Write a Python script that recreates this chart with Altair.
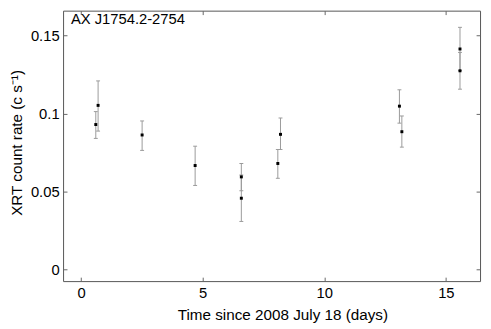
import altair as alt
import pandas as pd

# Observation time (days since 2008 July 18) and XRT count rates
t_days = [0.605, 0.70, 2.51, 4.69, 6.59, 6.59, 8.09, 8.20, 13.09, 13.19, 15.58, 15.58]
rate = [0.0929, 0.1052, 0.0862, 0.0666, 0.0593, 0.0456, 0.0679, 0.0866, 0.1047, 0.0883, 0.1414, 0.1274]
rate_lo = [0.0840, 0.0887, 0.0763, 0.0538, 0.0504, 0.0307, 0.0584, 0.0769, 0.0938, 0.0784, 0.1275, 0.1156]
rate_hi = [0.1012, 0.1209, 0.0952, 0.0790, 0.0679, 0.0605, 0.0769, 0.0971, 0.1152, 0.0984, 0.1553, 0.1392]

x_ticks = [0, 5, 10, 15]
y_ticks = [0, 0.05, 0.1, 0.15]
source_name = "AX J1754.2-2754"

df = pd.DataFrame({"t": t_days, "rate": rate, "lo": rate_lo, "hi": rate_hi})

W, H = 424, 275
FONT = "Liberation Sans"
xs = alt.Scale(domain=[-0.74, 16.405], nice=False, zero=False)
ys = alt.Scale(domain=[-0.0076, 0.166], nice=False, zero=False)

tick_axis = dict(labels=False, domain=False, grid=False, ticks=True, tickSize=4,
                 tickColor="#666666", tickWidth=1, title="")

base = alt.Chart(df)

bars = base.mark_rule(color="#9a9a9a", strokeWidth=1).encode(
    x=alt.X("t:Q", scale=xs, axis=alt.Axis(
        orient="bottom", values=x_ticks, ticks=False, domain=False, grid=False,
        labelPadding=5, labelFontSize=15, labelFont=FONT, labelColor="black",
        title="Time since 2008 July 18 (days)", titleFont=FONT, titleFontSize=15.5,
        titleFontWeight="normal", titleColor="black", titleX=223, titleY=39,
        titleBaseline="alphabetic")),
    y=alt.Y("lo:Q", scale=ys, axis=alt.Axis(
        orient="left", values=y_ticks, format="~g", ticks=False, domain=False, grid=False,
        labelPadding=4, labelFontSize=15, labelFont=FONT, labelColor="black",
        title="XRT count rate (c s\u207b\u00b9)", titleFont=FONT, titleFontSize=15.5,
        titleFontWeight="normal", titleColor="black", titleX=-39, titleY=134)),
    y2="hi:Q",
)

caps_lo = base.mark_tick(orient="horizontal", size=4, thickness=1, color="#9a9a9a", opacity=1).encode(
    x=alt.X("t:Q", scale=xs, axis=alt.Axis(orient="top", offset=-H, values=x_ticks, **tick_axis)),
    y=alt.Y("lo:Q", scale=ys, axis=alt.Axis(orient="right", offset=-W, values=y_ticks, **tick_axis)),
)

caps_hi = base.mark_tick(orient="horizontal", size=4, thickness=1, color="#9a9a9a", opacity=1).encode(
    x=alt.X("t:Q", scale=xs, axis=alt.Axis(orient="bottom", offset=-H, values=x_ticks, **tick_axis)),
    y=alt.Y("hi:Q", scale=ys, axis=alt.Axis(orient="left", offset=-W, values=y_ticks, **tick_axis)),
)

points = base.mark_square(size=9, color="black", opacity=1).encode(
    x=alt.X("t:Q", scale=xs, axis=None),
    y=alt.Y("rate:Q", scale=ys, axis=None),
)

label = alt.Chart(pd.DataFrame({"name": [source_name]})).mark_text(
    align="left", baseline="alphabetic", font=FONT, fontSize=15, color="black"
).encode(text="name:N", x=alt.value(8), y=alt.value(14))

chart = alt.layer(bars, caps_lo, caps_hi, points, label).resolve_axis(
    x="independent", y="independent"
).properties(
    width=W, height=H,
    autosize=alt.AutoSizeParams(type="none"),
    padding={"left": 56, "top": 0, "right": 3, "bottom": 46},
).configure_view(stroke="#555555", strokeWidth=1)

chart.save("out.html", embed_options={"renderer": "svg", "actions": False})
